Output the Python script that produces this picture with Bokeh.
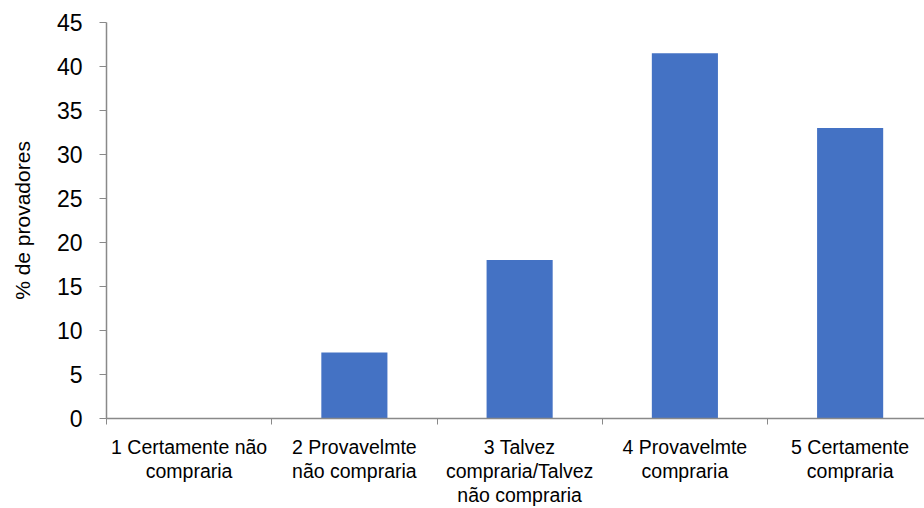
from bokeh.plotting import figure
from bokeh.models import Range1d, FixedTicker, ColumnDataSource
from bokeh.embed import file_html
from bokeh.resources import INLINE

categories = ["1 Certamente não\ncompraria",
              "2 Provavelmte\nnão compraria",
              "3 Talvez\ncompraria/Talvez\nnão compraria",
              "4 Provavelmte\ncompraria",
              "5 Certamente\ncompraria"]
positions = [1, 2, 3, 4, 5]
values = [0, 7.5, 18, 41.5, 33]
y_ticks = [0, 5, 10, 15, 20, 25, 30, 35, 40, 45]

src = ColumnDataSource(dict(x=positions, top=values))

p = figure(width=924, height=508, output_backend="svg", toolbar_location=None,
           x_range=Range1d(0.5, 5.45), y_range=Range1d(0, 45),
           min_border_left=106, min_border_right=0, min_border_top=22,
           min_border_bottom=90)
p.outline_line_color = None
p.grid.visible = False

p.vbar(x="x", top="top", width=0.4, source=src, color="#4472C4", line_color=None)

font = "Liberation Sans"
ax = p.xaxis[0]
ax.ticker = FixedTicker(ticks=positions, minor_ticks=[0.5, 1.5, 2.5, 3.5, 4.5, 5.5])
ax.major_label_overrides = {k: v for k, v in zip(positions, categories)}
ax.major_tick_line_color = None
ax.minor_tick_line_color = "#898989"
ax.minor_tick_in = 0
ax.minor_tick_out = 6
ax.axis_line_color = "#898989"
ax.axis_line_width = 1.5
ax.major_label_text_font = font
ax.major_label_text_font_size = "19.5px"
ax.major_label_text_color = "black"
ax.major_label_standoff = 11
ax.major_label_text_line_height = 1.1

ay = p.yaxis[0]
ay.ticker = FixedTicker(ticks=y_ticks, minor_ticks=[])
ay.major_tick_in = 0
ay.major_tick_out = 7
ay.major_tick_line_color = "#898989"
ay.axis_line_color = "#898989"
ay.axis_line_width = 1.5
ay.major_label_text_font = font
ay.major_label_text_font_size = "23px"
ay.major_label_text_color = "black"
ay.major_label_standoff = 17
ay.axis_label = "% de provadores"
ay.axis_label_text_font = font
ay.axis_label_text_font_size = "21px"
ay.axis_label_text_font_style = "normal"
ay.axis_label_text_color = "black"
ay.axis_label_standoff = 20

open("out.html", "w").write(file_html(p, INLINE))
